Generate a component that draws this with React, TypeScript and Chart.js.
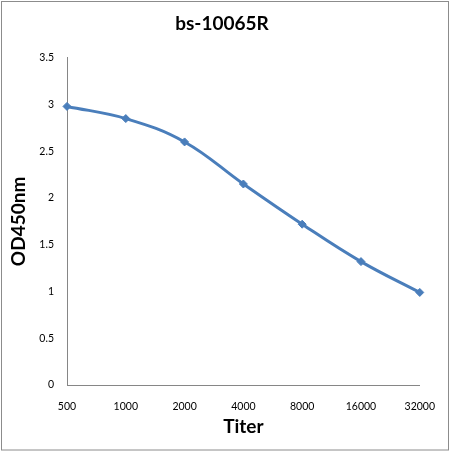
import React, { useEffect, useRef } from "react";
import { Chart, registerables } from "chart.js";

Chart.register(...registerables);

const titers = ["500", "1000", "2000", "4000", "8000", "16000", "32000"];
const od450 = [2.98, 2.85, 2.6, 2.15, 1.72, 1.32, 0.99];
const chartTitle = "bs-10065R";
const yTitle = "OD450nm";
const xTitle = "Titer";

const frame = {
  id: "frame",
  afterDraw(chart: any) {
    const ctx = chart.ctx;
    ctx.save();
    ctx.strokeStyle = "#8c8c8c";
    ctx.lineWidth = 1;
    ctx.strokeRect(1.5, 1.5, 447, 448.5);
    ctx.restore();
  },
};

export default function App() {
  const ref = useRef<HTMLCanvasElement | null>(null);
  useEffect(() => {
    document.body.style.margin = "0";
    const chart = new Chart(ref.current as HTMLCanvasElement, {
      type: "line",
      data: {
        labels: titers,
        datasets: [
          {
            data: od450,
            borderColor: "#4A7EBB",
            backgroundColor: "#4A7EBB",
            borderWidth: 3,
            tension: 0.4,
            pointStyle: "rectRot",
            pointRadius: 4,
            pointBorderWidth: 1,
            fill: false,
          },
        ],
      },
      options: {
        animation: false,
        responsive: false,
        devicePixelRatio: 1,
        layout: { padding: { left: 13, right: 19, top: 0, bottom: 0 } },
        plugins: {
          legend: { display: false },
          tooltip: { enabled: false },
          title: {
            display: true,
            text: chartTitle,
            color: "#000",
            font: { family: "Lato", weight: "bold", size: 19 },
            padding: { top: 12, bottom: 23 },
          },
        },
        scales: {
          x: {
            offset: false,
            grid: { display: false, drawTicks: false },
            border: { display: true, color: "#868686", width: 1 },
            ticks: {
              color: "#000",
              font: { family: "Lato", size: 10.5 },
              padding: 15,
              maxRotation: 0,
              autoSkip: false,
            },
            title: {
              display: true,
              text: xTitle,
              color: "#000",
              font: { family: "Lato", weight: "bold", size: 19 },
              padding: { top: 0, bottom: 14 },
            },
            afterFit(scale: any) {
              scale.height = 67;
            },
          },
          y: {
            min: 0,
            max: 3.5,
            grid: { display: false, drawTicks: false },
            border: { display: true, color: "#868686", width: 1 },
            ticks: {
              stepSize: 0.5,
              color: "#000",
              font: { family: "Lato", size: 10.5 },
              padding: 13,
              callback: (v: any) => String(Number(v)),
            },
            title: {
              display: true,
              text: yTitle,
              color: "#000",
              font: { family: "Lato", weight: "bold", size: 19 },
              padding: { top: -6, bottom: 0 },
            },
            afterFit(scale: any) {
              scale.width = 54;
            },
          },
        },
      },
      plugins: [frame],
    });
    return () => chart.destroy();
  }, []);
  return (
    <div style={{ width: 450, height: 452, background: "#fff" }}>
      <canvas ref={ref} width={450} height={452} style={{ display: "block" }} />
    </div>
  );
}
